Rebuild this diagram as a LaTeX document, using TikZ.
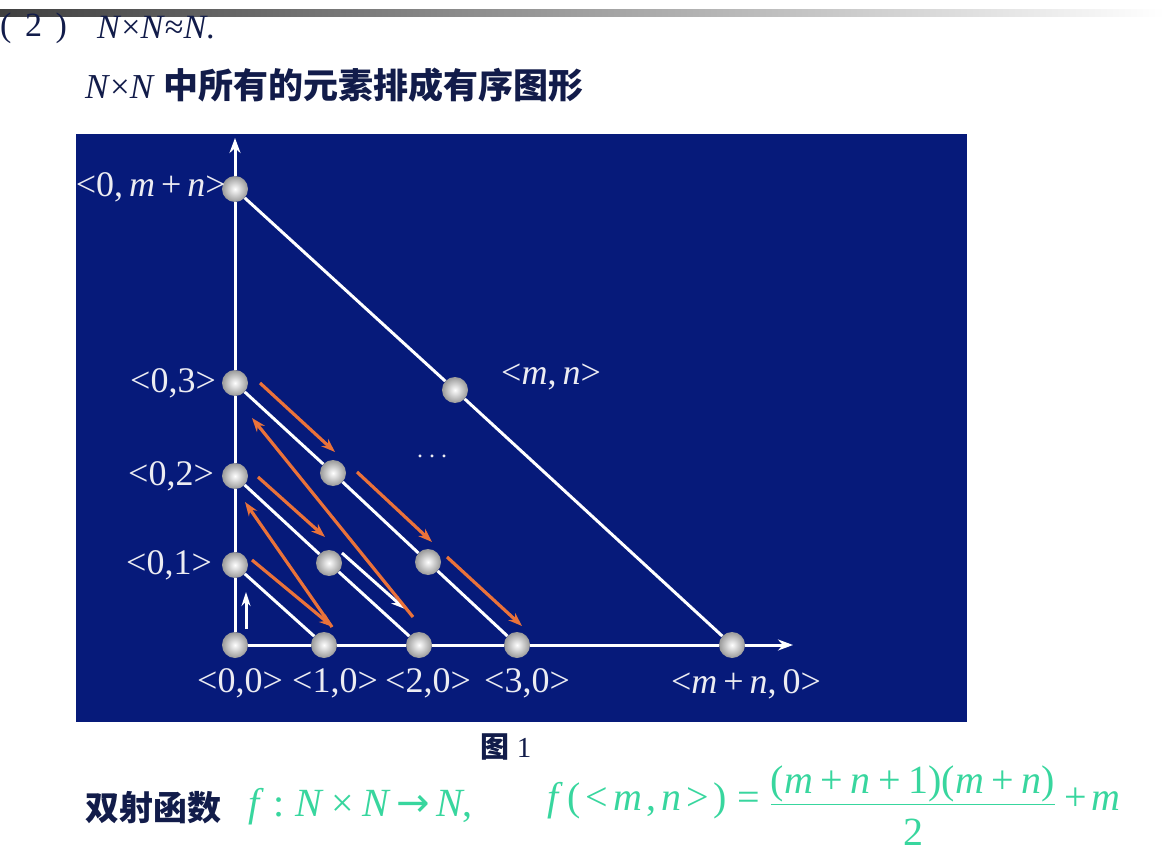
\documentclass[tikz,border=0pt]{standalone}
\usepackage{fontspec}
\setmainfont{Liberation Serif}
\newfontfamily\cjk{Noto Sans CJK SC}
\newfontfamily\arrowfont{DejaVu Sans}
\usetikzlibrary{calc}
\usetikzlibrary{arrows.meta}
\definecolor{SlideBlue}{RGB}{6,26,122}
\definecolor{InkBlue}{RGB}{18,28,74}
\definecolor{ArrowOrange}{RGB}{234,114,58}
\definecolor{FormulaGreen}{RGB}{56,214,158}
\definecolor{LabelWhite}{RGB}{236,236,242}
\newcommand{\gap}{\hspace{0.12em}}
\newcommand{\wgap}{\hspace{0.19em}}

\begin{document}
\begin{tikzpicture}[x=1pt, y=-1pt,
  ball/.style = {circle, inner sep = 0pt, minimum size = 26pt,
    shading = radial, inner color = white, outer color = gray!80},
  wline/.style = {draw = white, line width = 3pt},
  flow/.style = {draw = ArrowOrange, line width = 3.2pt,
    -{Stealth[length = 14pt, width = 10pt]}},
  lbl/.style = {inner sep = 0pt, text = LabelWhite,
    font = \fontsize{36}{40}\selectfont},
  formula/.style = {inner sep = 0pt, text = FormulaGreen,
    font = \fontsize{40}{46}\selectfont}]

  \useasboundingbox (0,0) rectangle (1164,866);

  % slide header
  \shade[left color = black!75, middle color = black!20, right color = white]
    (0,10) rectangle (1164,17);
  \node[anchor = west, inner sep = 0pt, text = InkBlue,
    font = \fontsize{34}{38}\selectfont] (num) at (0,28)
    {(\hspace{0.4em}2\hspace{0.4em})};
  \node[anchor = west, inner sep = 0pt, text = InkBlue,
    font = \fontsize{34}{38}\selectfont] (claim) at (97,28)
    {\textit{N}×\textit{N}≈\textit{N}.};
  \node[anchor = west, inner sep = 0pt, text = InkBlue,
    font = \fontsize{35}{40}\selectfont] (heading) at (85,85)
    {\textit{N}×\textit{N} {\cjk\bfseries 中所有的元素排成有序图形}};

  % panel
  \fill[SlideBlue] (76,134) rectangle (967,722);

  % lattice points
  \node[ball] (p00) at (235,645) {};
  \node[ball] (p10) at (324,645) {};
  \node[ball] (p20) at (419,645) {};
  \node[ball] (p30) at (517,645) {};
  \node[ball] (pmn0) at (732,645) {};
  \node[ball] (p01) at (235,565) {};
  \node[ball] (p02) at (235,476) {};
  \node[ball] (p03) at (235,383) {};
  \node[ball] (p0mn) at (235,189) {};
  \node[ball] (p11) at (329,563) {};
  \node[ball] (p12) at (333,473) {};
  \node[ball] (p21) at (428,562) {};
  \node[ball] (pmn) at (455,390) {};

  \coordinate (ytip) at (235,138);
  \coordinate (xtip) at (793,645);

  % axes
  \draw[wline, -{Stealth[length = 15pt, width = 11pt]}]
    (p00) -- (p01) -- (p02) -- (p03) -- (p0mn) -- (ytip);
  \draw[wline, -{Stealth[length = 15pt, width = 11pt]}]
    (p00) -- (p10) -- (p20) -- (p30) -- (pmn0) -- (xtip);

  % diagonals
  \draw[wline] (p01) -- (p10);
  \draw[wline] (p02) -- (p11) -- (p20);
  \draw[wline] (p03) -- (p12) -- (p21) -- (p30);
  \draw[wline] (p0mn) -- (pmn) -- (pmn0);

  % enumeration order
  \draw[wline, -{Stealth[length = 14pt, width = 9pt]}]
    ($(p00)+(11,-16)$) -- ($(p01)+(11,27)$);
  \draw[flow] ($(p01)+(17,-5)$) -- ($(p10)+(9,-18)$);
  \draw[flow] ($(p10)+(8,-18)$) -- ($(p02)+(10,26)$);
  \draw[flow] ($(p02)+(23,1)$) -- ($(p11)+(-4,-26)$);
  \draw[wline, -{Stealth[length = 14pt, width = 10pt]}]
    ($(p11)+(13,-10)$) -- ($(p20)+(-14,-36)$);
  \draw[flow] ($(p20)+(-6,-28)$) -- ($(p03)+(17,35)$);
  \draw[flow] ($(p03)+(25,0)$) -- ($(p12)+(2,-21)$);
  \draw[flow] ($(p12)+(24,-1)$) -- ($(p21)+(4,-20)$);
  \draw[flow] ($(p21)+(19,-5)$) -- ($(p30)+(5,-19)$);

  % labels
  \node[lbl] (l00) at (240,683) {<0,0>};
  \node[lbl] (l10) at (335,683) {<1,0>};
  \node[lbl] (l20) at (428,683) {<2,0>};
  \node[lbl] (l30) at (527,683) {<3,0>};
  \node[lbl] (lmn0) at (746,684) {<\textit{m}\,+\,\textit{n},\,0>};
  \node[lbl, anchor = east] (l01) at (212,565) {<0,1>};
  \node[lbl, anchor = east] (l02) at (214,476) {<0,2>};
  \node[lbl, anchor = east] (l03) at (216,383) {<0,3>};
  \node[lbl, anchor = east] (l0mn) at (226,187)
    {<0,\,\textit{m}\,+\,\textit{n}>};
  \node[lbl] (lmn) at (551,377) {<\textit{m},\,\textit{n}>};
  \node[lbl, font = \fontsize{24}{28}\selectfont] (dots) at (432,456) {.\ .\ .};

  % caption and bijection
  \node[inner sep = 0pt, text = InkBlue, font = \fontsize{29}{32}\selectfont]
    (caption) at (506,747) {{\cjk\bfseries 图} 1};
  \node[anchor = west, inner sep = 0pt, text = InkBlue,
    font = \fontsize{34}{40}\selectfont] (bij) at (85,808)
    {\cjk\bfseries 双射函数};
  \node[formula, anchor = west] (fdef) at (248,807)
    {\textit{f}\hspace{0.25em}:\hspace{0.25em}\textit{N}\hspace{0.2em}×\hspace{0.2em}\textit{N}\hspace{0.15em}{\arrowfont →}\hspace{0.15em}\textit{N},};
  \node[formula, anchor = west] (fval) at (547,806)
    {$\hbox{\textit{f}\gap(\gap<\gap\textit{m}\gap,\gap\textit{n}\gap>\gap)\hspace{0.25em}=\hspace{0.25em}}%
      {\displaystyle\frac{\hbox{(\textit{m}\wgap+\wgap\textit{n}\wgap+\wgap1)(\textit{m}\wgap+\wgap\textit{n})}}{\hbox{\rule{0pt}{1em}2}}}%
      \hbox{\hspace{0.2em}+\gap\textit{m}}$};
\end{tikzpicture}
\end{document}
